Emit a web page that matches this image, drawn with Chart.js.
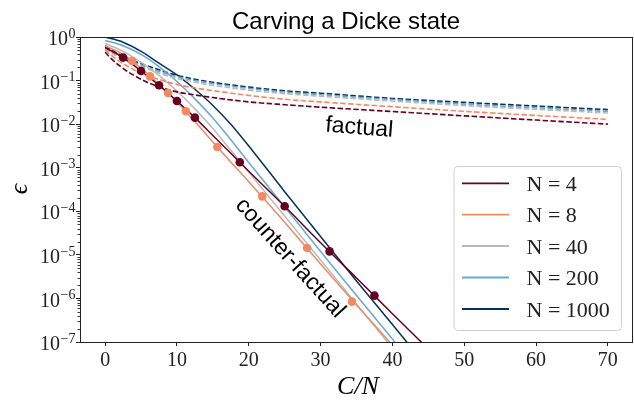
<!DOCTYPE html>
<html><head><meta charset="utf-8">
<script src="https://cdn.jsdelivr.net/npm/chart.js@4/dist/chart.umd.min.js"></script>
<style>html,body{margin:0;padding:0;background:#fff}#wrap{width:634px;height:401px;position:relative}</style>
</head><body><div id="wrap"><canvas id="c" width="634" height="401"></canvas></div>
<script>
// ---------- data ----------
const TITLE = 'Carving a Dicke state';
const SERIES_LABELS = ['N = 4', 'N = 8', 'N = 40', 'N = 200', 'N = 1000'];
const COLORS = ['#67001f', '#ef8a62', '#bababa', '#67a9cf', '#053061'];
const X_TICKS = [0, 10, 20, 30, 40, 50, 60, 70];
const X_TICK_LABELS = ['0', '10', '20', '30', '40', '50', '60', '70'];
const Y_TICKS = [1e-7, 1e-6, 1e-5, 1e-4, 1e-3, 1e-2, 1e-1, 1];
const Y_TICK_EXP = ['\u22127', '\u22126', '\u22125', '\u22124', '\u22123', '\u22122', '\u22121', '0'];

// counter-factual (solid lines)
const CF_X = [0, 2.5, 5, 7.5, 10, 12.5, 15, 17.5, 20, 25, 30, 35, 40, 45];
const CF_N4 = [0.575, 0.337, 0.166, 0.0778, 0.034, 0.0141, 0.0055, 2.14e-3, 8.3e-4, 1.3e-4, 1.9e-5, 2.95e-6, 4.47e-7, 6.9e-8];
const CF_N8 = [0.631, 0.398, 0.191, 0.0813, 0.0324, 0.01148, 3.89e-3, 1.35e-3, 4.79e-4, 5.62e-5, 6.17e-6, 7.1e-7, 8.5e-8, 1.0e-8];
const CF_N40 = [0.708, 0.468, 0.263, 0.132, 0.0575, 0.0224, 7.94e-3, 2.51e-3, 7.94e-4, 7.76e-5, 7.59e-6, 7.41e-7, 7.24e-8, 7.08e-9];
const CF_N200 = [0.832, 0.631, 0.398, 0.209, 0.0955, 0.038, 0.0138, 4.37e-3, 1.32e-3, 1.26e-4, 1.2e-5, 1.17e-6, 1.17e-7, 1.12e-8];
const CF_N1000 = [1.0, 0.759, 0.468, 0.251, 0.135, 0.0631, 0.0269, 0.01, 3.16e-3, 2.82e-4, 2.63e-5, 2.51e-6, 2.51e-7, 2.51e-8];

// factual (dashed lines)
const F_X = [0, 1, 2, 3, 4, 5, 6, 8, 10, 12.5, 15, 20, 25, 30, 40, 50, 60, 70];
const F_N4 = [0.447, 0.302, 0.219, 0.166, 0.132, 0.107, 0.0891, 0.0676, 0.055, 0.0468, 0.0407, 0.0324, 0.0279, 0.0245, 0.0195, 0.0155, 0.0124, 0.01];
const F_N8 = [0.501, 0.363, 0.275, 0.219, 0.178, 0.151, 0.129, 0.1, 0.0813, 0.0676, 0.0589, 0.0457, 0.0372, 0.0324, 0.0251, 0.0197, 0.0158, 0.0129];
const F_N40 = [0.537, 0.417, 0.339, 0.282, 0.24, 0.209, 0.182, 0.138, 0.112, 0.0912, 0.0776, 0.0603, 0.0501, 0.0437, 0.0339, 0.0266, 0.0219, 0.018];
const F_N200 = [0.589, 0.457, 0.372, 0.309, 0.263, 0.226, 0.197, 0.151, 0.123, 0.1, 0.0851, 0.0661, 0.0543, 0.0473, 0.0367, 0.0288, 0.0237, 0.0195];
const F_N1000 = [0.631, 0.49, 0.398, 0.331, 0.282, 0.245, 0.214, 0.166, 0.132, 0.107, 0.0912, 0.0708, 0.0582, 0.0513, 0.0389, 0.0316, 0.026, 0.0215];

// simulated points (markers)
const DOT_N4_X = [2.5, 5, 7.5, 10, 12.5, 18.75, 25, 31.25, 37.5];
const DOT_N4_Y = [0.337, 0.166, 0.0778, 0.034, 0.0141, 1.33e-3, 1.3e-4, 1.2e-5, 1.16e-6];
const DOT_N8_X = [3.75, 6.25, 8.75, 11.25, 15.625, 21.875, 28.125, 34.375];
const DOT_N8_Y = [0.281, 0.125, 0.0519, 0.0197, 2.99e-3, 2.2e-4, 1.44e-5, 8.45e-7];

// ---------- build ----------
const pts = (xs, ys) => xs.map((x, i) => ({x, y: ys[i]}));
const CF = [CF_N4, CF_N8, CF_N40, CF_N200, CF_N1000];
const FA = [F_N4, F_N8, F_N40, F_N200, F_N1000];
const datasets = [];
datasets.push({label: 'dots4', data: pts(DOT_N4_X, DOT_N4_Y), showLine: false, pointRadius: 4.3, pointBackgroundColor: COLORS[0], pointBorderWidth: 0, order: 0});
datasets.push({label: 'dots8', data: pts(DOT_N8_X, DOT_N8_Y), showLine: false, pointRadius: 4.3, pointBackgroundColor: COLORS[1], pointBorderWidth: 0, order: 0});
for (let i = 0; i < 5; i++) {
  datasets.push({label: SERIES_LABELS[i], data: pts(CF_X, CF[i]), borderColor: COLORS[i], borderWidth: 1.5, pointRadius: 0, cubicInterpolationMode: 'monotone', order: 1});
  datasets.push({label: SERIES_LABELS[i] + ' f', data: pts(F_X, FA[i]), borderColor: COLORS[i], borderWidth: 1.6, borderDash: [5.5, 2.4], pointRadius: 0, cubicInterpolationMode: 'monotone', order: 1});
}

const serif = '"Liberation Serif", "DejaVu Serif", serif';
const sans = '"Liberation Sans", Arial, sans-serif';
const INK = '#222';

const deco = {
  id: 'deco',
  afterDatasetsDraw(chart) {
    const ctx = chart.ctx, a = chart.chartArea;
    const xs = chart.scales.x, ys = chart.scales.y;
    ctx.save();
    // frame
    ctx.strokeStyle = INK; ctx.lineWidth = 1;
    ctx.strokeRect(Math.round(a.left) + 0.5, Math.round(a.top) + 0.5, Math.round(a.right - a.left) - 1, Math.round(a.bottom - a.top));
    // minor y ticks
    ctx.beginPath();
    for (let e = -7; e < 0; e++) {
      for (let k = 2; k <= 9; k++) {
        const py = Math.round(ys.getPixelForValue(k * Math.pow(10, e))) + 0.5;
        ctx.moveTo(a.left, py); ctx.lineTo(a.left - 2.5, py);
      }
    }
    ctx.lineWidth = 0.9; ctx.stroke();
    // y tick labels 10^e
    ctx.fillStyle = INK;
    Y_TICKS.forEach((v, i) => {
      const py = ys.getPixelForValue(v);
      ctx.font = '14px ' + serif; ctx.textAlign = 'right'; ctx.textBaseline = 'alphabetic';
      const sup = Y_TICK_EXP[i];
      const sw = ctx.measureText(sup).width;
      ctx.fillText(sup, 75.5, py + 0.7);
      ctx.font = '20px ' + serif;
      ctx.fillText('10', 75.5 - sw - 0.5, py + 8.2);
    });
    // x tick labels
    ctx.font = '20px ' + serif; ctx.textAlign = 'center'; ctx.textBaseline = 'alphabetic';
    X_TICKS.forEach((v, i) => {
      ctx.fillText(X_TICK_LABELS[i], xs.getPixelForValue(v), 365.5);
    });
    // title
    ctx.font = '24px ' + sans; ctx.textAlign = 'center'; ctx.textBaseline = 'alphabetic';
    ctx.fillStyle = '#000';
    ctx.fillText(TITLE, 346, 29);
    // axis labels
    ctx.font = 'italic 26px ' + serif;
    ctx.fillText('C/N', 358, 394);
    ctx.save(); ctx.translate(20, 189); ctx.rotate(-Math.PI / 2);
    ctx.textBaseline = 'middle'; ctx.fillText('\u03f5', 0, 0); ctx.restore();
    // annotations
    ctx.font = '23px ' + sans;
    ctx.save(); ctx.translate(325, 131.5); ctx.rotate(4.6 * Math.PI / 180);
    ctx.textAlign = 'left'; ctx.fillText('factual', 0, 0); ctx.restore();
    ctx.save(); ctx.translate(290, 258); ctx.rotate(48 * Math.PI / 180);
    ctx.textAlign = 'center'; ctx.textBaseline = 'middle'; ctx.fillText('counter-factual', 0, 0); ctx.restore();
    // legend
    const lx = 454, ly = 166.5, lw = 167.5, lh = 164, r = 4;
    ctx.beginPath();
    ctx.moveTo(lx + r, ly); ctx.lineTo(lx + lw - r, ly); ctx.arcTo(lx + lw, ly, lx + lw, ly + r, r);
    ctx.lineTo(lx + lw, ly + lh - r); ctx.arcTo(lx + lw, ly + lh, lx + lw - r, ly + lh, r);
    ctx.lineTo(lx + r, ly + lh); ctx.arcTo(lx, ly + lh, lx, ly + lh - r, r);
    ctx.lineTo(lx, ly + r); ctx.arcTo(lx, ly, lx + r, ly, r); ctx.closePath();
    ctx.fillStyle = 'rgba(255,255,255,0.85)'; ctx.fill();
    ctx.strokeStyle = '#d0d0d0'; ctx.lineWidth = 1; ctx.stroke();
    const rows = [183.3, 214.6, 246, 277.5, 309];
    ctx.font = '22px ' + serif; ctx.textAlign = 'left'; ctx.textBaseline = 'alphabetic';
    SERIES_LABELS.forEach((lab, i) => {
      ctx.strokeStyle = COLORS[i]; ctx.lineWidth = 1.8;
      ctx.beginPath(); ctx.moveTo(462, rows[i]); ctx.lineTo(509, rows[i]); ctx.stroke();
      ctx.fillStyle = '#222'; ctx.fillText(lab, 526.5, rows[i] + 7.5);
    });
    ctx.restore();
  }
};

new Chart(document.getElementById('c'), {
  type: 'line',
  data: {datasets},
  options: {
    responsive: false, animation: false, devicePixelRatio: 1,
    layout: {autoPadding: false, padding: {top: 37, right: 1, left: 0, bottom: 0}},
    plugins: {legend: {display: false}, title: {display: false}, tooltip: {enabled: false}},
    elements: {line: {fill: false}},
    scales: {
      x: {
        type: 'linear', min: -3.5, max: 73.5,
        afterBuildTicks: s => { s.ticks = X_TICKS.map(v => ({value: v})); },
        afterFit: s => { s.height = 59; s.paddingLeft = 0; s.paddingRight = 0; },
        border: {display: false},
        grid: {display: true, drawOnChartArea: false, drawTicks: true, tickLength: 4, color: INK, lineWidth: 1},
        ticks: {display: false}
      },
      y: {
        type: 'logarithmic', min: 1e-7, max: 1,
        afterBuildTicks: s => { s.ticks = Y_TICKS.map(v => ({value: v, major: true})); },
        afterFit: s => { s.width = 80; s.paddingTop = 0; s.paddingBottom = 0; },
        border: {display: false},
        grid: {display: true, drawOnChartArea: false, drawTicks: true, tickLength: 4, color: INK, lineWidth: 1},
        ticks: {display: false}
      }
    }
  },
  plugins: [deco]
});
</script></body></html>
